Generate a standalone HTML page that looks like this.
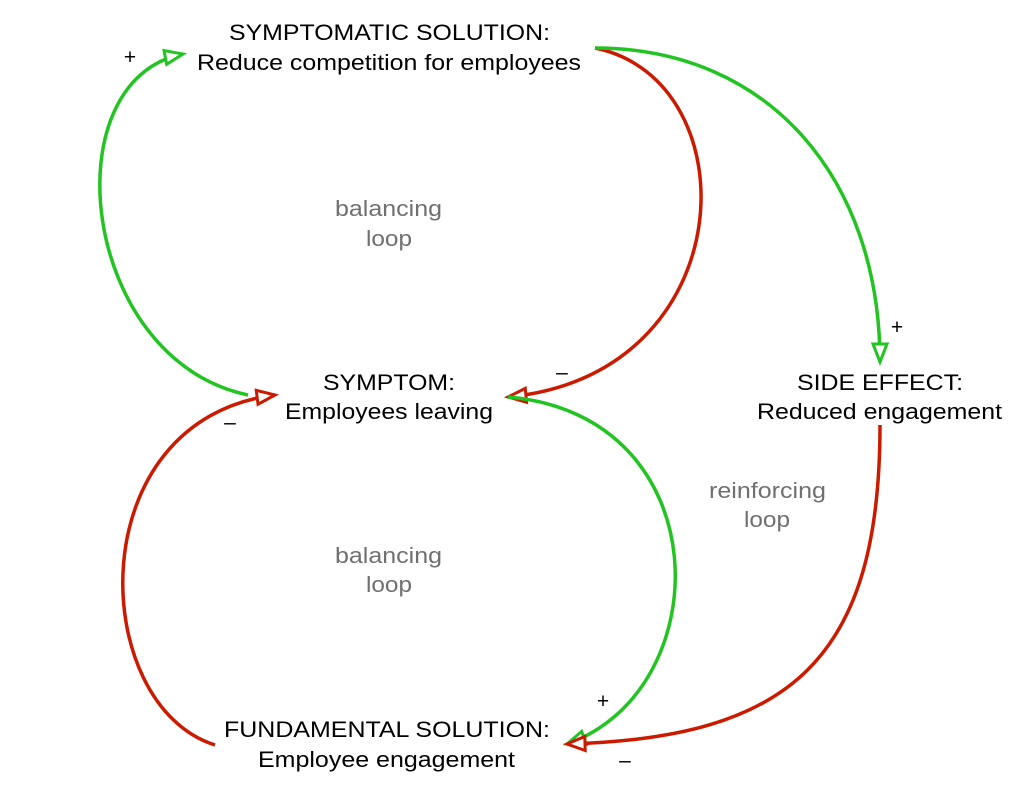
<!DOCTYPE html>
<html><head><meta charset="utf-8"><style>
html,body{margin:0;padding:0;background:#fff;}
svg{display:block;font-family:"Liberation Sans",Arial,sans-serif;}
</style></head><body>
<svg width="1022" height="802" viewBox="0 0 1022 802" xmlns="http://www.w3.org/2000/svg">
<defs>
<marker id="ag" markerUnits="userSpaceOnUse" markerWidth="30" markerHeight="30" refX="20" refY="10" orient="auto">
<path d="M2,3 L20,10 L2,17 Z" fill="#fff" stroke="#22c422" stroke-width="3" stroke-linejoin="miter"/>
</marker>
<marker id="ar" markerUnits="userSpaceOnUse" markerWidth="30" markerHeight="30" refX="20" refY="10" orient="auto">
<path d="M2,3 L20,10 L2,17 Z" fill="#fff" stroke="#cc1a00" stroke-width="3" stroke-linejoin="miter"/>
</marker>
</defs>
<g fill="none" stroke-width="3.5">
<path d="M248,395 C80,360 50,80 183,54" stroke="#22c422" marker-end="url(#ag)"/>
<path d="M595,48 C752,80 744,375 508,397" stroke="#cc1a00" marker-end="url(#ar)"/>
<path d="M595,48 C770,48 880,180 880,362" stroke="#22c422" marker-end="url(#ag)"/>
<path d="M508,397 C720,415 720,690 567,744" stroke="#22c422" marker-end="url(#ag)"/>
<path d="M880,425 C880,660 790,738 567,744" stroke="#cc1a00" marker-end="url(#ar)"/>
<path d="M215,745 C88,705 78,420 275,395" stroke="#cc1a00" marker-end="url(#ar)"/>
</g>
<g font-size="22" fill="#000" lengthAdjust="spacingAndGlyphs">
<text x="229" y="40" textLength="321" lengthAdjust="spacingAndGlyphs">SYMPTOMATIC SOLUTION:</text>
<text x="197" y="70" textLength="384" lengthAdjust="spacingAndGlyphs">Reduce competition for employees</text>
<text x="323" y="390" textLength="132" lengthAdjust="spacingAndGlyphs">SYMPTOM:</text>
<text x="285" y="419" textLength="208" lengthAdjust="spacingAndGlyphs">Employees leaving</text>
<text x="797" y="390" textLength="166" lengthAdjust="spacingAndGlyphs">SIDE EFFECT:</text>
<text x="757" y="419" textLength="245" lengthAdjust="spacingAndGlyphs">Reduced engagement</text>
<text x="224" y="737" textLength="326" lengthAdjust="spacingAndGlyphs">FUNDAMENTAL SOLUTION:</text>
<text x="258" y="767" textLength="257" lengthAdjust="spacingAndGlyphs">Employee engagement</text>
</g>
<g font-size="22" fill="#707070">
<text x="335" y="216" textLength="107" lengthAdjust="spacingAndGlyphs">balancing</text>
<text x="366" y="246" textLength="46" lengthAdjust="spacingAndGlyphs">loop</text>
<text x="335" y="563" textLength="107" lengthAdjust="spacingAndGlyphs">balancing</text>
<text x="366" y="592" textLength="46" lengthAdjust="spacingAndGlyphs">loop</text>
<text x="709" y="498" textLength="117" lengthAdjust="spacingAndGlyphs">reinforcing</text>
<text x="744" y="527" textLength="46" lengthAdjust="spacingAndGlyphs">loop</text>
</g>
<g font-size="21" fill="#000" text-anchor="middle">
<text x="130" y="64">+</text>
<text x="897" y="334">+</text>
<text x="562" y="379">–</text>
<text x="230" y="429">–</text>
<text x="603" y="708">+</text>
<text x="625" y="767">–</text>
</g>
</svg>
</body></html>
